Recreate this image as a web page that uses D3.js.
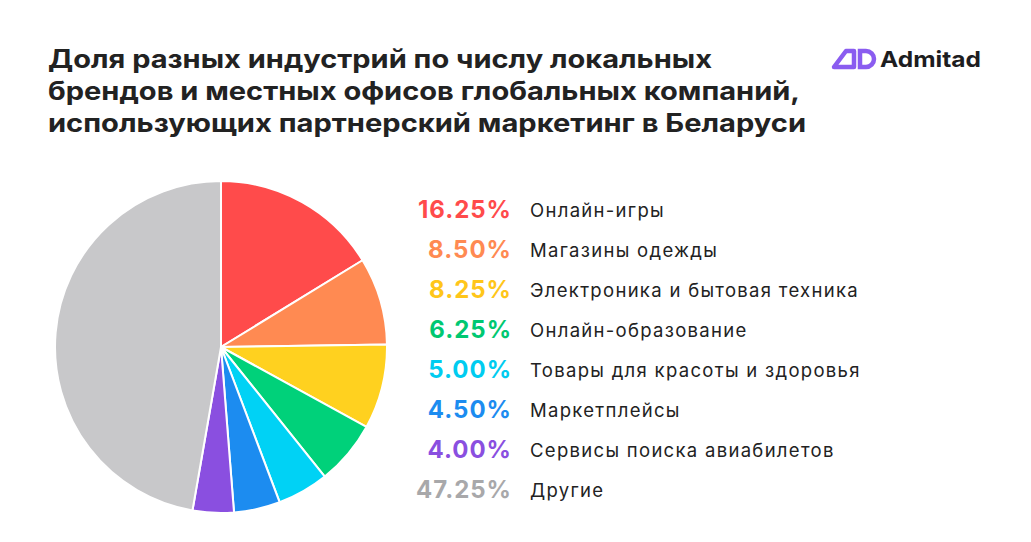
<!DOCTYPE html>
<html><head><meta charset="utf-8">
<script src="https://cdn.jsdelivr.net/npm/d3@7"></script>
<style>body{margin:0;background:#fff;font-family:Inter,"Noto Sans",sans-serif}</style>
</head><body><svg id="c" width="1031" height="542"></svg>
<script>
const categories=["Онлайн-игры","Магазины одежды","Электроника и бытовая техника","Онлайн-образование","Товары для красоты и здоровья","Маркетплейсы","Сервисы поиска авиабилетов","Другие"];
const values=[16.25,8.50,8.25,6.25,5.00,4.50,4.00,47.25];
const colors=["#ff4b4b","#ff8a52","#ffd11f","#00d17a","#00d2f5","#1c8cf0","#8a4fe0","#c8c8ca"];
const labelColors=["#ff4b4b","#ff8a52","#ffc61a","#00c872","#00ccf0","#1c8cf0","#8a4fe0","#a8a8aa"];
const svg=d3.select("#c");
const title=["Доля разных индустрий по числу локальных","брендов и местных офисов глобальных компаний,","использующих партнерский маркетинг в Беларуси"];
const titleW=[664,752,758];
svg.append("text").attr("font-size",25).attr("font-weight",700).attr("fill","#222")
 .selectAll("tspan").data(title).join("tspan").attr("x",48).attr("y",(d,i)=>68+i*32)
 .attr("textLength",(d,i)=>titleW[i]).attr("lengthAdjust","spacingAndGlyphs").text(d=>d);
const lg=svg.append("g").attr("transform","translate(832,47)");
lg.append("path").attr("d","M2 20 L14 4 L22 4 L22 20 Z").attr("fill","none").attr("stroke","#8a5cf0").attr("stroke-width",4.5).attr("stroke-linejoin","round");
lg.append("path").attr("d","M28 4 L34 4 A8 8 0 0 1 34 20 L28 20 Z").attr("fill","none").attr("stroke","#8a5cf0").attr("stroke-width",4.5);
svg.append("text").attr("x",880).attr("y",67).attr("font-size",22).attr("font-weight",700).attr("fill","#1d1d1f")
 .attr("textLength",101).attr("lengthAdjust","spacingAndGlyphs").text("Admitad");
const pie=d3.pie().sort(null).value(d=>d)(values);
const arc=d3.arc().innerRadius(0).outerRadius(166);
svg.append("g").attr("transform","translate(221,347)").selectAll("path").data(pie).join("path")
 .attr("d",arc).attr("fill",(d,i)=>colors[i]).attr("stroke","#fff").attr("stroke-width",2);
const y=d3.scalePoint().domain(categories).range([210,490]);
const lgd=svg.append("g");
lgd.selectAll(".p").data(categories).join("text").attr("x",512).attr("y",d=>y(d)+8).attr("text-anchor","end")
 .attr("font-size",24).attr("font-weight",700).attr("letter-spacing",1).attr("fill",(d,i)=>labelColors[i]).text((d,i)=>values[i].toFixed(2)+"%");
lgd.selectAll(".l").data(categories).join("text").attr("x",530).attr("y",d=>y(d)+7).attr("font-size",18.5).attr("letter-spacing",1.3).attr("fill","#222").text(d=>d);
</script></body></html>
